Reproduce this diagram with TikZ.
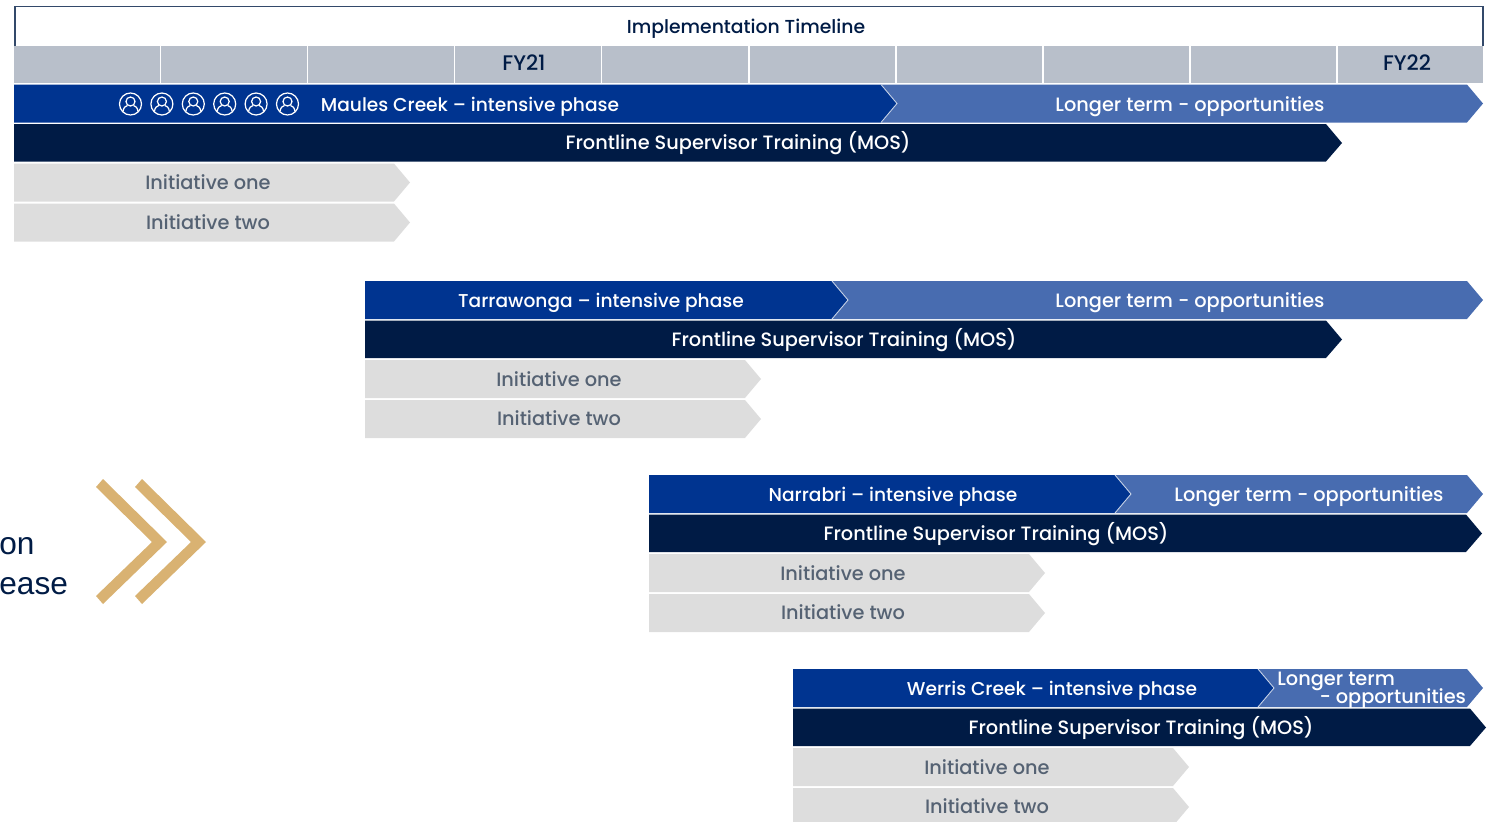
\documentclass[tikz,border=0pt]{standalone}
\usepackage{fontspec}
\setmainfont{Poppins Medium}
\newfontfamily\arialfont{Liberation Sans}
\definecolor{navy}{RGB}{0,27,69}
\definecolor{sitecol}{RGB}{0,52,144}
\definecolor{longcol}{RGB}{72,108,176}
\definecolor{headcol}{RGB}{184,191,202}
\definecolor{initcol}{RGB}{221,221,221}
\definecolor{initfont}{RGB}{85,98,115}
\definecolor{goldcol}{RGB}{217,178,114}
\tikzset{
	bartext/.style={inner sep=0pt,text height=8.4pt,text depth=0pt,font=\fontsize{11}{11}\selectfont},
	whitetext/.style={bartext,text=white},
	sidetext/.style={anchor=base west,inner sep=0pt,text=navy,font=\arialfont\fontsize{18}{18}\selectfont},
	person/.pic={
		\draw[white,line width=.7pt] (0,0) circle (11);
		\draw[white,line width=.7pt] (0,-2.5) circle (4.5);
		\draw[white,line width=.7pt] (-7.5,7.5) .. controls (-7,3) and (-4.5,2) .. (-3,1.5);
		\draw[white,line width=.7pt] (7.5,7.5) .. controls (7,3) and (4.5,2) .. (3,1.5);
	}
}
\begin{document}
\begin{tikzpicture}[x=.02cm,y=-.02cm]
	\clip (0,0) rectangle (1489,822);

	\draw[navy!80,line width=1.1pt] (15,46) -- (15,6.5) -- (1483,6.5) -- (1483,46);
	\node[bartext,text=navy,font=\fontsize{10.7}{11}\selectfont] (title) at (746,26) {Implementation Timeline};

	\foreach \c in {0,...,9}
		\fill[headcol] (14+147.1*\c,46) rectangle (159.5+147.1*\c,83);
	\node[bartext,text=navy,font=\fontsize{12}{12}\selectfont] (fy21) at (524,63) {FY21};
	\node[bartext,text=navy,font=\fontsize{12}{12}\selectfont] (fy22) at (1407,63) {FY22};

	\foreach \s/\x/\y/\site/\split/\sitex/\mosend/\mosx in {
		a/14/84.5/Maules Creek/881/470/1326/738,
		b/365/281/Tarrawonga/832/601/1326/844,
		c/649/475/Narrabri/1115/893/1466/996,
		d/793/669/Werris Creek/1258/1052/1470/1141}
	{
		\fill[longcol] (\split,\y) -- (1467,\y) -- (1483,\y+19) -- (1467,\y+38) -- (\split,\y+38) -- cycle;
		\fill[sitecol] (\x,\y) -- (\split,\y) -- (\split+16,\y+19) -- (\split,\y+38) -- (\x,\y+38) -- cycle;
		\draw[white!70!longcol,line width=.5pt] (\split,\y) -- (\split+16,\y+19) -- (\split,\y+38);
		\fill[navy] (\x,\y+39.5) -- (\mosend,\y+39.5) -- (\mosend+16,\y+58.5) -- (\mosend,\y+77) -- (\x,\y+77) -- cycle;
		\fill[initcol] (\x,\y+79) -- (\x+380,\y+79) -- (\x+396,\y+98) -- (\x+380,\y+117) -- (\x,\y+117) -- cycle;
		\fill[initcol] (\x,\y+119) -- (\x+380,\y+119) -- (\x+396,\y+138) -- (\x+380,\y+157) -- (\x,\y+157) -- cycle;
		\node[whitetext,font=\fontsize{10.6}{11}\selectfont] (site\s) at (\sitex,\y+19.5) {\site{} – intensive phase};
		\node[whitetext] (mos\s) at (\mosx,\y+58) {Frontline Supervisor Training (MOS)};
		\node[bartext,text=initfont] (one\s) at (\x+194,\y+98) {Initiative one};
		\node[bartext,text=initfont] (two\s) at (\x+194,\y+137.5) {Initiative two};
	}

	\foreach \c in {0,...,5}
		\pic at (130.5+31.4*\c,104) {person};

	\node[whitetext] (longa) at (1190,104) {Longer term - opportunities};
	\node[whitetext] (longb) at (1190,300.5) {Longer term - opportunities};
	\node[whitetext] (longc) at (1309,494.5) {Longer term - opportunities};
	\node[inner sep=0pt,text=white,anchor=west,align=left,font=\fontsize{11}{9.6}\selectfont] (longd) at (1277,690) {Longer term\\[-2.3pt]\hspace*{24pt}- opportunities};

	\foreach \o in {0,39}
		\fill[goldcol] (103+\o,479) -- (167+\o,542) -- (103+\o,604) -- (96+\o,596) -- (152+\o,542) -- (96+\o,487) -- cycle;
	\node[sidetext] (phasea) at (-1,554) {on};
	\node[sidetext] (phaseb) at (-1,594) {ease};
\end{tikzpicture}
\end{document}
